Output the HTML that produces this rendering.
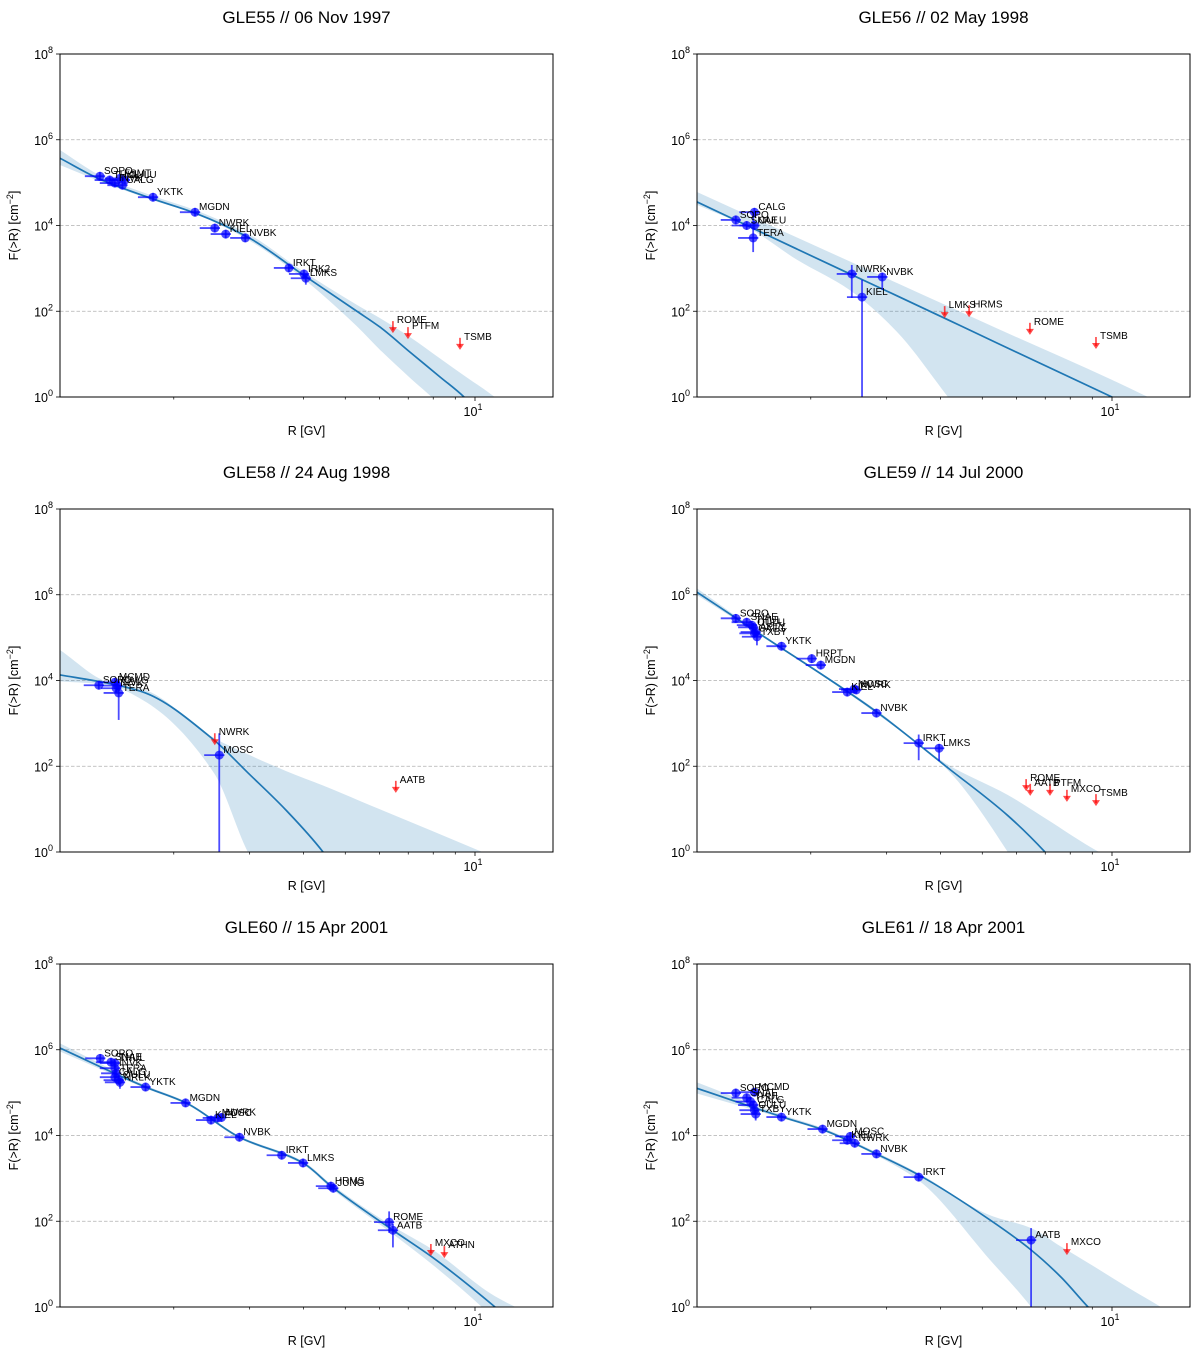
<!DOCTYPE html>
<html><head><meta charset="utf-8"><title>GLE spectra</title>
<style>
html,body{margin:0;padding:0;background:#fff;width:1200px;height:1356px;overflow:hidden;}
svg{display:block;font-family:"Liberation Sans","DejaVu Sans",sans-serif;}
</style></head>
<body>
<svg id="fig" width="1200" height="1356" viewBox="0 0 1200 1356" xmlns="http://www.w3.org/2000/svg"></svg>
<script>
// ---- chart data ----
const titles = ["GLE55 // 06 Nov 1997","GLE56 // 02 May 1998","GLE58 // 24 Aug 1998","GLE59 // 14 Jul 2000","GLE60 // 15 Apr 2001","GLE61 // 18 Apr 2001"];
const xTickLabel = ["10","1"];
const yTickExps = [0,2,4,6,8];
const gridExps = [2,4,6];
const xMinorTicks = [2,3,4,5,6,7,8,9];
const xMajorTicks = [10];

// fit curves: rigidity (GV), log10 F centre, upper, lower
const curveR = [
 [1.089,1.348,1.789,2.240,3.005,3.925,5.32,6.02,7.06,8.29,9.43,11.42,15.17],
 [1.089,1.422,1.858,2.466,3.170,4.163,5.408,10.0,12.12,15.17],
 [1.089,1.40,1.697,2.48,2.97,3.64,4.44,5.408,10.4,15.17],
 [1.089,1.501,2.849,4.14,5.73,6.99,9.33,15.17],
 [1.089,1.72,2.135,2.84,3.99,4.66,6.45,7.94,11.13,15.17],
 [1.089,1.72,2.14,2.84,3.56,5.21,6.49,7.61,8.80,10.83,12.99,15.17]
];
const curveC = [
 [5.57,5.08,4.62,4.29,3.70,2.90,2.00,1.63,1.05,0.47,0,-1.0,-2.8],
 [4.55,4.0,3.45,2.87,2.36,1.80,1.26,0.0,-0.39,-0.85],
 [4.13,3.94,3.73,2.61,1.85,0.98,0,-1.3,-5,-6],
 [6.06,5.13,3.26,1.98,0.85,0,-1.5,-4],
 [6.04,5.13,4.76,3.96,3.36,2.80,1.79,1.17,0,-1.2],
 [5.10,4.43,4.13,3.57,3.08,2.03,1.33,0.70,0,-0.9,-1.8,-2.6]
];
const curveU = [
 [5.76,5.17,4.69,4.36,3.78,2.98,2.15,1.84,1.40,0.90,0.50,-0.1,-1.5],
 [4.78,4.25,3.72,3.16,2.66,2.12,1.60,0.40,0,-0.45],
 [4.71,3.97,3.80,2.66,2.28,1.89,1.55,1.19,0,-0.7],
 [6.15,5.16,3.30,2.05,1.33,0.79,0,-1],
 [6.15,5.17,4.79,3.99,3.40,2.85,1.88,1.35,0.25,-0.4],
 [5.24,4.48,4.17,3.61,3.12,2.14,1.84,1.41,1.03,0.47,0,-0.4]
];
const curveL = [
 [5.41,5.03,4.59,4.27,3.64,2.82,1.65,1.10,0.45,-0.2,-1,-2.5,-4],
 [4.48,3.97,3.2,2.49,1.52,0,-1.5,-4,-4.5,-5],
 [3.98,3.90,3.54,1.84,0,-1.5,-3,-4,-6,-7],
 [5.99,5.10,3.22,1.93,0,-1.5,-3,-6],
 [5.96,5.10,4.73,3.93,3.32,2.75,1.70,1.0,-0.3,-1.9],
 [4.98,4.40,4.10,3.53,2.95,1.1,0,-1,-1.8,-3,-4,-5]
];

// station measurements
const ptNames = [
 ["SOPO","THUL","INVK","FSMT","CALG","OULU","YKTK","MGDN","NWRK","KIEL","NVBK","IRKT","IRK2","LMKS"],
 ["SOPO","SNAE","CALG","OULU","TERA","NWRK","KIEL","NVBK"],
 ["SOPO","MCMD","INVK","CALG","TERA","MOSC"],
 ["SOPO","SNAE","THUL","OULU","CALG","APTY","TXBY","YKTK","HRPT","MGDN","KIEL","MOSC","NWRK","NVBK","IRKT","LMKS"],
 ["SOPO","SNAE","THUL","INVK","TERA","CALG","OULU","NRLK","YKTK","MGDN","KIEL","MOSC","NWRK","NVBK","IRKT","LMKS","HRMS","JUNG","ROME","AATB"],
 ["SOPO","MCMD","SNAE","THUL","CALG","OULU","TXBY","YKTK","MGDN","MOSC","KIEL","NWRK","NVBK","IRKT","AATB"]
];
const ptR = [
 [1.348,1.42,1.46,1.50,1.52,1.54,1.79,2.24,2.49,2.64,2.93,3.70,4.01,4.05],
 [1.34,1.42,1.48,1.48,1.47,2.49,2.63,2.93],
 [1.34,1.46,1.47,1.48,1.49,2.55],
 [1.34,1.42,1.46,1.47,1.48,1.49,1.50,1.71,2.01,2.11,2.43,2.52,2.55,2.84,3.56,3.97],
 [1.35,1.43,1.46,1.46,1.47,1.46,1.49,1.50,1.72,2.13,2.44,2.53,2.58,2.84,3.56,3.99,4.63,4.69,6.32,6.45],
 [1.34,1.48,1.42,1.45,1.47,1.48,1.49,1.71,2.13,2.47,2.43,2.53,2.84,3.56,6.49]
];
const ptF = [
 [5.15,5.06,4.99,5.10,4.94,5.06,4.66,4.31,3.94,3.80,3.71,3.01,2.87,2.77],
 [4.13,4.00,4.31,4.00,3.71,2.87,2.33,2.80],
 [3.89,3.96,3.82,3.88,3.71,2.26],
 [5.45,5.36,5.29,5.24,5.10,5.13,5.02,4.80,4.51,4.36,3.73,3.80,3.78,3.24,2.54,2.42],
 [5.80,5.71,5.69,5.57,5.45,5.36,5.29,5.24,5.13,4.76,4.36,4.41,4.42,3.96,3.54,3.36,2.82,2.77,1.98,1.79],
 [4.99,5.01,4.88,4.79,4.71,4.59,4.50,4.43,4.15,3.98,3.89,3.82,3.57,3.03,1.56]
];
const ptErrHi = [
 [.1,.1,.1,.1,.1,.1,.1,.1,.1,.1,.1,.1,.1,.1],
 [.1,.1,.1,.1,.6,.21,.4,.1],
 [.1,.1,.1,.1,.3,.51],
 [.1,.1,.1,.1,.1,.1,.1,.1,.1,.1,.1,.1,.1,.1,.2,.1],
 [.1,.1,.1,.1,.1,.1,.1,.1,.1,.1,.1,.1,.1,.1,.1,.1,.1,.1,.25,.15],
 [.1,.1,.1,.1,.1,.1,.1,.1,.1,.1,.1,.1,.1,.1,.28]
];
const ptErrLo = [
 [.1,.1,.1,.1,.1,.1,.1,.1,.1,.1,.1,.1,.1,.15],
 [.1,.1,.1,.1,.33,.56,9,.3],
 [.1,.1,.1,.1,.63,9],
 [.1,.1,.1,.1,.1,.1,.2,.1,.1,.1,.1,.1,.1,.1,.4,.3],
 [.1,.1,.1,.1,.1,.1,.1,.15,.1,.1,.1,.1,.1,.1,.1,.1,.1,.1,.25,.4],
 [.1,.1,.1,.1,.1,.1,.15,.1,.1,.1,.1,.1,.1,.1,9]
];
// upper limits
const ulNames = [
 ["ROME","PTFM","TSMB"],
 ["LMKS","HRMS","ROME","TSMB"],
 ["NWRK","AATB"],
 ["ROME","AATB","PTFM","MXCO","TSMB"],
 ["MXCO","ATHN"],
 ["MXCO"]
];
const ulR = [
 [6.45,6.99,9.23],
 [4.09,4.66,6.45,9.18],
 [2.49,6.55],
 [6.32,6.46,7.18,7.86,9.18],
 [7.90,8.49],
 [7.86]
];
const ulF = [
 [1.56,1.42,1.17],
 [1.91,1.93,1.52,1.19],
 [2.56,1.45],
 [1.49,1.38,1.38,1.24,1.14],
 [1.26,1.21],
 [1.28]
];

// ---- layout ----
const PANELS = [{x0:60,y0:54},{x0:697,y0:54},{x0:60,y0:509},{x0:697,y0:509},{x0:60,y0:964},{x0:697,y0:964}];
const W = 493, H = 343;
const LXMIN = 0.037, LXMAX = 1.181, YMIN = 0, YMAX = 8;
const NS = "http://www.w3.org/2000/svg";
const svg = document.getElementById("fig");

function mk(tag, attrs, parent){
  const e = document.createElementNS(NS, tag);
  for (const k in attrs) e.setAttribute(k, attrs[k]);
  (parent||svg).appendChild(e);
  return e;
}
function sx(p, R){ return p.x0 + (Math.log10(R) - LXMIN) / (LXMAX - LXMIN) * W; }
function sy(p, lf){ return p.y0 + H - (lf - YMIN) / (YMAX - YMIN) * H; }

// monotone cubic (Fritsch-Carlson) through points sorted by x
function monoPath(pts, reverse){
  const n = pts.length;
  const xs = pts.map(q => q[0]), ys = pts.map(q => q[1]);
  const d = [], m = new Array(n);
  for (let i = 0; i < n - 1; i++) d.push((ys[i+1]-ys[i])/(xs[i+1]-xs[i]));
  m[0] = d[0]; m[n-1] = d[n-2];
  for (let i = 1; i < n - 1; i++){
    if (d[i-1]*d[i] <= 0) m[i] = 0;
    else { const w1 = 2*(xs[i+1]-xs[i]) + (xs[i]-xs[i-1]), w2 = (xs[i+1]-xs[i]) + 2*(xs[i]-xs[i-1]);
      m[i] = (w1 + w2) / (w1/d[i-1] + w2/d[i]); }
  }
  const segs = [];
  for (let i = 0; i < n - 1; i++){
    const h = xs[i+1]-xs[i];
    segs.push([[xs[i],ys[i]],[xs[i]+h/3, ys[i]+m[i]*h/3],[xs[i+1]-h/3, ys[i+1]-m[i+1]*h/3],[xs[i+1],ys[i+1]]]);
  }
  const f = v => v.toFixed(2);
  if (!reverse){
    let s = "M" + f(xs[0]) + "," + f(ys[0]);
    segs.forEach(g => { s += " C" + f(g[1][0])+","+f(g[1][1])+" "+f(g[2][0])+","+f(g[2][1])+" "+f(g[3][0])+","+f(g[3][1]); });
    return s;
  } else {
    let s = " L" + f(xs[n-1]) + "," + f(ys[n-1]);
    for (let i = segs.length - 1; i >= 0; i--){ const g = segs[i];
      s += " C" + f(g[2][0])+","+f(g[2][1])+" "+f(g[1][0])+","+f(g[1][1])+" "+f(g[0][0])+","+f(g[0][1]); }
    return s;
  }
}

PANELS.forEach((p, i) => {
  const g = mk("g", {});
  
  

  const defs = mk("defs", {}, g);
  const cp = mk("clipPath", {id: "clip" + i}, defs);
  mk("rect", {x: p.x0, y: p.y0, width: W, height: H}, cp);

  const t = mk("text", {x: p.x0 + W/2, y: p.y0 - 31, "text-anchor": "middle", "font-size": 17, fill: "#000"}, g);
  t.textContent = titles[i];
  
  

  gridExps.forEach(e => {
    const gl = mk("line", {x1: p.x0, x2: p.x0 + W, y1: sy(p, e), y2: sy(p, e), stroke: "#b0b0b0", "stroke-width": 0.8, "stroke-dasharray": "3.5,2"}, g);
    
    
  });

  const plot = mk("g", {"clip-path": "url(#clip" + i + ")"}, g);

  const up = curveR[i].map((r, k) => [sx(p, r), sy(p, curveU[i][k])]);
  const lo = curveR[i].map((r, k) => [sx(p, r), sy(p, curveL[i][k])]);
  const bd = monoPath(up, false) + monoPath(lo, true) + " Z";
  const band = mk("path", {d: bd, fill: "#1f77b4", "fill-opacity": 0.2, stroke: "none"}, plot);
  
  

  const cpts = curveR[i].map((r, k) => [sx(p, r), sy(p, curveC[i][k])]);
  const cv = mk("path", {d: monoPath(cpts, false), fill: "none", stroke: "#1f77b4", "stroke-width": 1.7}, plot);
  
  

  ptNames[i].forEach((nm, k) => {
    const R = ptR[i][k], F = ptF[i][k];
    const x = sx(p, R), y = sy(p, F);
    const pg = mk("g", {}, plot);
    
    
    const xl = sx(p, R * Math.pow(10, -0.035)), xh = sx(p, R * Math.pow(10, 0.012));
    mk("line", {x1: xl, x2: xh, y1: y, y2: y, stroke: "#0000ff", "stroke-opacity": 0.7, "stroke-width": 1.8}, pg);
    mk("line", {x1: x, x2: x, y1: sy(p, F + ptErrHi[i][k]), y2: sy(p, F - ptErrLo[i][k]), stroke: "#0000ff", "stroke-opacity": 0.7, "stroke-width": 1.8}, pg);
    mk("circle", {cx: x, cy: y, r: 4.5, fill: "#0000ff", "fill-opacity": 0.7}, pg);
  });
  ptNames[i].forEach((nm, k) => {
    const x = sx(p, ptR[i][k]), y = sy(p, ptF[i][k]);
    const lt = mk("text", {x: x + 4, y: y - 2, "font-size": 10, fill: "#000"}, g);
    lt.textContent = nm;
    
    
  });

  ulNames[i].forEach((nm, k) => {
    const x = sx(p, ulR[i][k]), y = sy(p, ulF[i][k]);
    const ag = mk("g", {}, plot);
    
    
    mk("line", {x1: x, x2: x, y1: y - 9, y2: y, stroke: "#ff0000", "stroke-opacity": 0.7, "stroke-width": 1.7}, ag);
    mk("path", {d: "M" + (x-4) + "," + (y-3) + " L" + (x+4) + "," + (y-3) + " L" + x + "," + (y+3) + " Z", fill: "#ff0000", "fill-opacity": 0.7}, ag);
    const lt = mk("text", {x: x + 4, y: y - 7, "font-size": 10, fill: "#000"}, g);
    lt.textContent = nm;
    
    
  });

  const fr = mk("rect", {x: p.x0, y: p.y0, width: W, height: H, fill: "none", stroke: "#000", "stroke-width": 1}, g);
  
  

  yTickExps.forEach(e => {
    const y = sy(p, e);
    mk("line", {x1: p.x0 - 4, x2: p.x0, y1: y, y2: y, stroke: "#000", "stroke-width": 0.8}, g);
    const tl = mk("text", {x: p.x0 - 7, y: y + 5, "text-anchor": "end", "font-size": 12.5, fill: "#000"}, g);
    
    
    const a = mk("tspan", {}, tl); a.textContent = "10";
    const b = mk("tspan", {"font-size": 9, dy: -6}, tl); b.textContent = String(e);
  });
  xMinorTicks.forEach(v => {
    const x = sx(p, v);
    mk("line", {x1: x, x2: x, y1: p.y0 + H, y2: p.y0 + H + 2.5, stroke: "#000", "stroke-width": 0.7}, g);
  });
  xMajorTicks.forEach(v => {
    const x = sx(p, v);
    mk("line", {x1: x, x2: x, y1: p.y0 + H, y2: p.y0 + H + 4, stroke: "#000", "stroke-width": 0.8}, g);
    const tl = mk("text", {x: x - 2, y: p.y0 + H + 19, "text-anchor": "middle", "font-size": 12.5, fill: "#000"}, g);
    
    
    const a = mk("tspan", {}, tl); a.textContent = xTickLabel[0];
    const b = mk("tspan", {"font-size": 9, dy: -6}, tl); b.textContent = xTickLabel[1];
  });

  const xl = mk("text", {x: p.x0 + W/2, y: p.y0 + H + 38, "text-anchor": "middle", "font-size": 12.5, fill: "#000"}, g);
  xl.textContent = "R [GV]";
  
  

  const yl = mk("text", {x: 0, y: 0, "text-anchor": "middle", "font-size": 12.5, fill: "#000", transform: "translate(" + (p.x0 - 42) + "," + (p.y0 + H/2) + ") rotate(-90)"}, g);
  
  
  const y1 = mk("tspan", {}, yl); y1.textContent = "F(>R) [cm";
  const y2 = mk("tspan", {"font-size": 9, dy: -5}, yl); y2.textContent = "\u22122";
  const y3 = mk("tspan", {dy: 5}, yl); y3.textContent = "]";
});
</script>
</body></html>
